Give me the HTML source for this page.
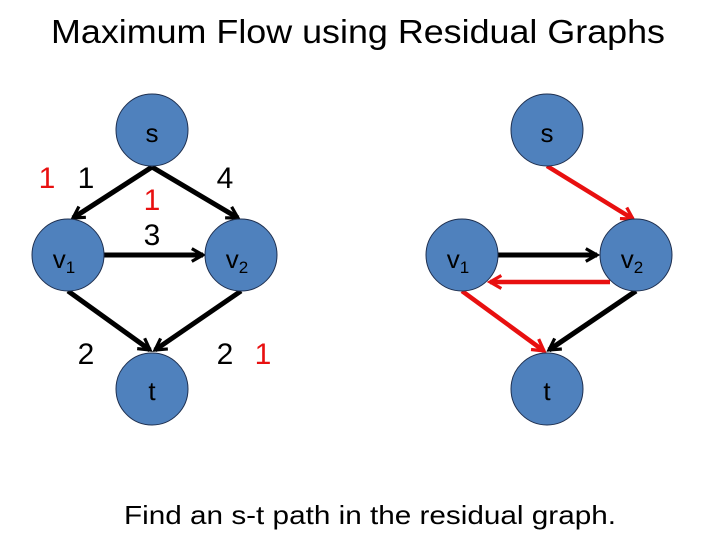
<!DOCTYPE html>
<html><head><meta charset="utf-8"><style>html,body{margin:0;padding:0;background:#fff}svg{display:block}</style></head>
<body>
<svg width="720" height="540" viewBox="0 0 720 540" xmlns="http://www.w3.org/2000/svg" font-family="Liberation Sans, sans-serif">
<defs>
<marker id="ab" viewBox="0 0 10 10" refX="8" refY="5" markerWidth="3.2" markerHeight="3.2" orient="auto" markerUnits="strokeWidth"><path d="M1,1 L8,5 L1,9" fill="none" stroke="#000" stroke-width="2"/></marker>
<marker id="ar" viewBox="0 0 10 10" refX="8" refY="5" markerWidth="3.6" markerHeight="3.6" orient="auto" markerUnits="strokeWidth"><path d="M1,1 L8,5 L1,9" fill="none" stroke="#e81010" stroke-width="2"/></marker>
</defs>
<text x="358" y="43" font-size="33" text-anchor="middle" textLength="614" lengthAdjust="spacingAndGlyphs" fill="#000">Maximum Flow using Residual Graphs</text>
<g stroke="#000" stroke-width="5" fill="none">
<line x1="152" y1="167" x2="73" y2="218" marker-end="url(#ab)"/>
<line x1="152" y1="167" x2="238" y2="218" marker-end="url(#ab)"/>
<line x1="104" y1="255" x2="203" y2="255" marker-end="url(#ab)"/>
<line x1="68" y1="291" x2="150" y2="350" marker-end="url(#ab)"/>
<line x1="241" y1="291" x2="155" y2="350" marker-end="url(#ab)"/>
<line x1="498" y1="255" x2="597" y2="255" marker-end="url(#ab)"/>
<line x1="636" y1="291" x2="549" y2="350" marker-end="url(#ab)"/>
</g>
<g stroke="#e81010" stroke-width="4.5" fill="none">
<line x1="547" y1="166" x2="633" y2="219" marker-end="url(#ar)"/>
<line x1="610" y1="282" x2="490" y2="282" marker-end="url(#ar)"/>
<line x1="462" y1="291" x2="544" y2="351" marker-end="url(#ar)"/>
</g>
<g fill="#4f81bd" stroke="#1f3050" stroke-width="1">
<circle cx="152" cy="130" r="36"/><circle cx="68" cy="255" r="36"/><circle cx="241" cy="255" r="36"/><circle cx="152" cy="389" r="36"/>
<circle cx="547" cy="130" r="36"/><circle cx="462" cy="255" r="36"/><circle cx="636" cy="255" r="36"/><circle cx="547" cy="389" r="36"/>
</g>
<g font-size="26" fill="#000" text-anchor="middle">
<text x="152" y="142">s</text><text x="547" y="142">s</text>
<text x="152" y="400">t</text><text x="547" y="400">t</text>
<text x="64" y="268">v<tspan font-size="17" dy="5">1</tspan></text>
<text x="237" y="268">v<tspan font-size="17" dy="5">2</tspan></text>
<text x="458" y="268">v<tspan font-size="17" dy="5">1</tspan></text>
<text x="632" y="268">v<tspan font-size="17" dy="5">2</tspan></text>
</g>
<g font-size="30" text-anchor="middle">
<text x="47" y="188" fill="#e81010">1</text>
<text x="86" y="188">1</text>
<text x="152" y="210" fill="#e81010">1</text>
<text x="152" y="245">3</text>
<text x="225" y="188">4</text>
<text x="86" y="364">2</text>
<text x="225" y="364">2</text>
<text x="263" y="364" fill="#e81010">1</text>
</g>
<text x="370" y="524" font-size="26" text-anchor="middle" textLength="492" lengthAdjust="spacingAndGlyphs">Find an s-t path in the residual graph.</text>
</svg>
</body></html>
